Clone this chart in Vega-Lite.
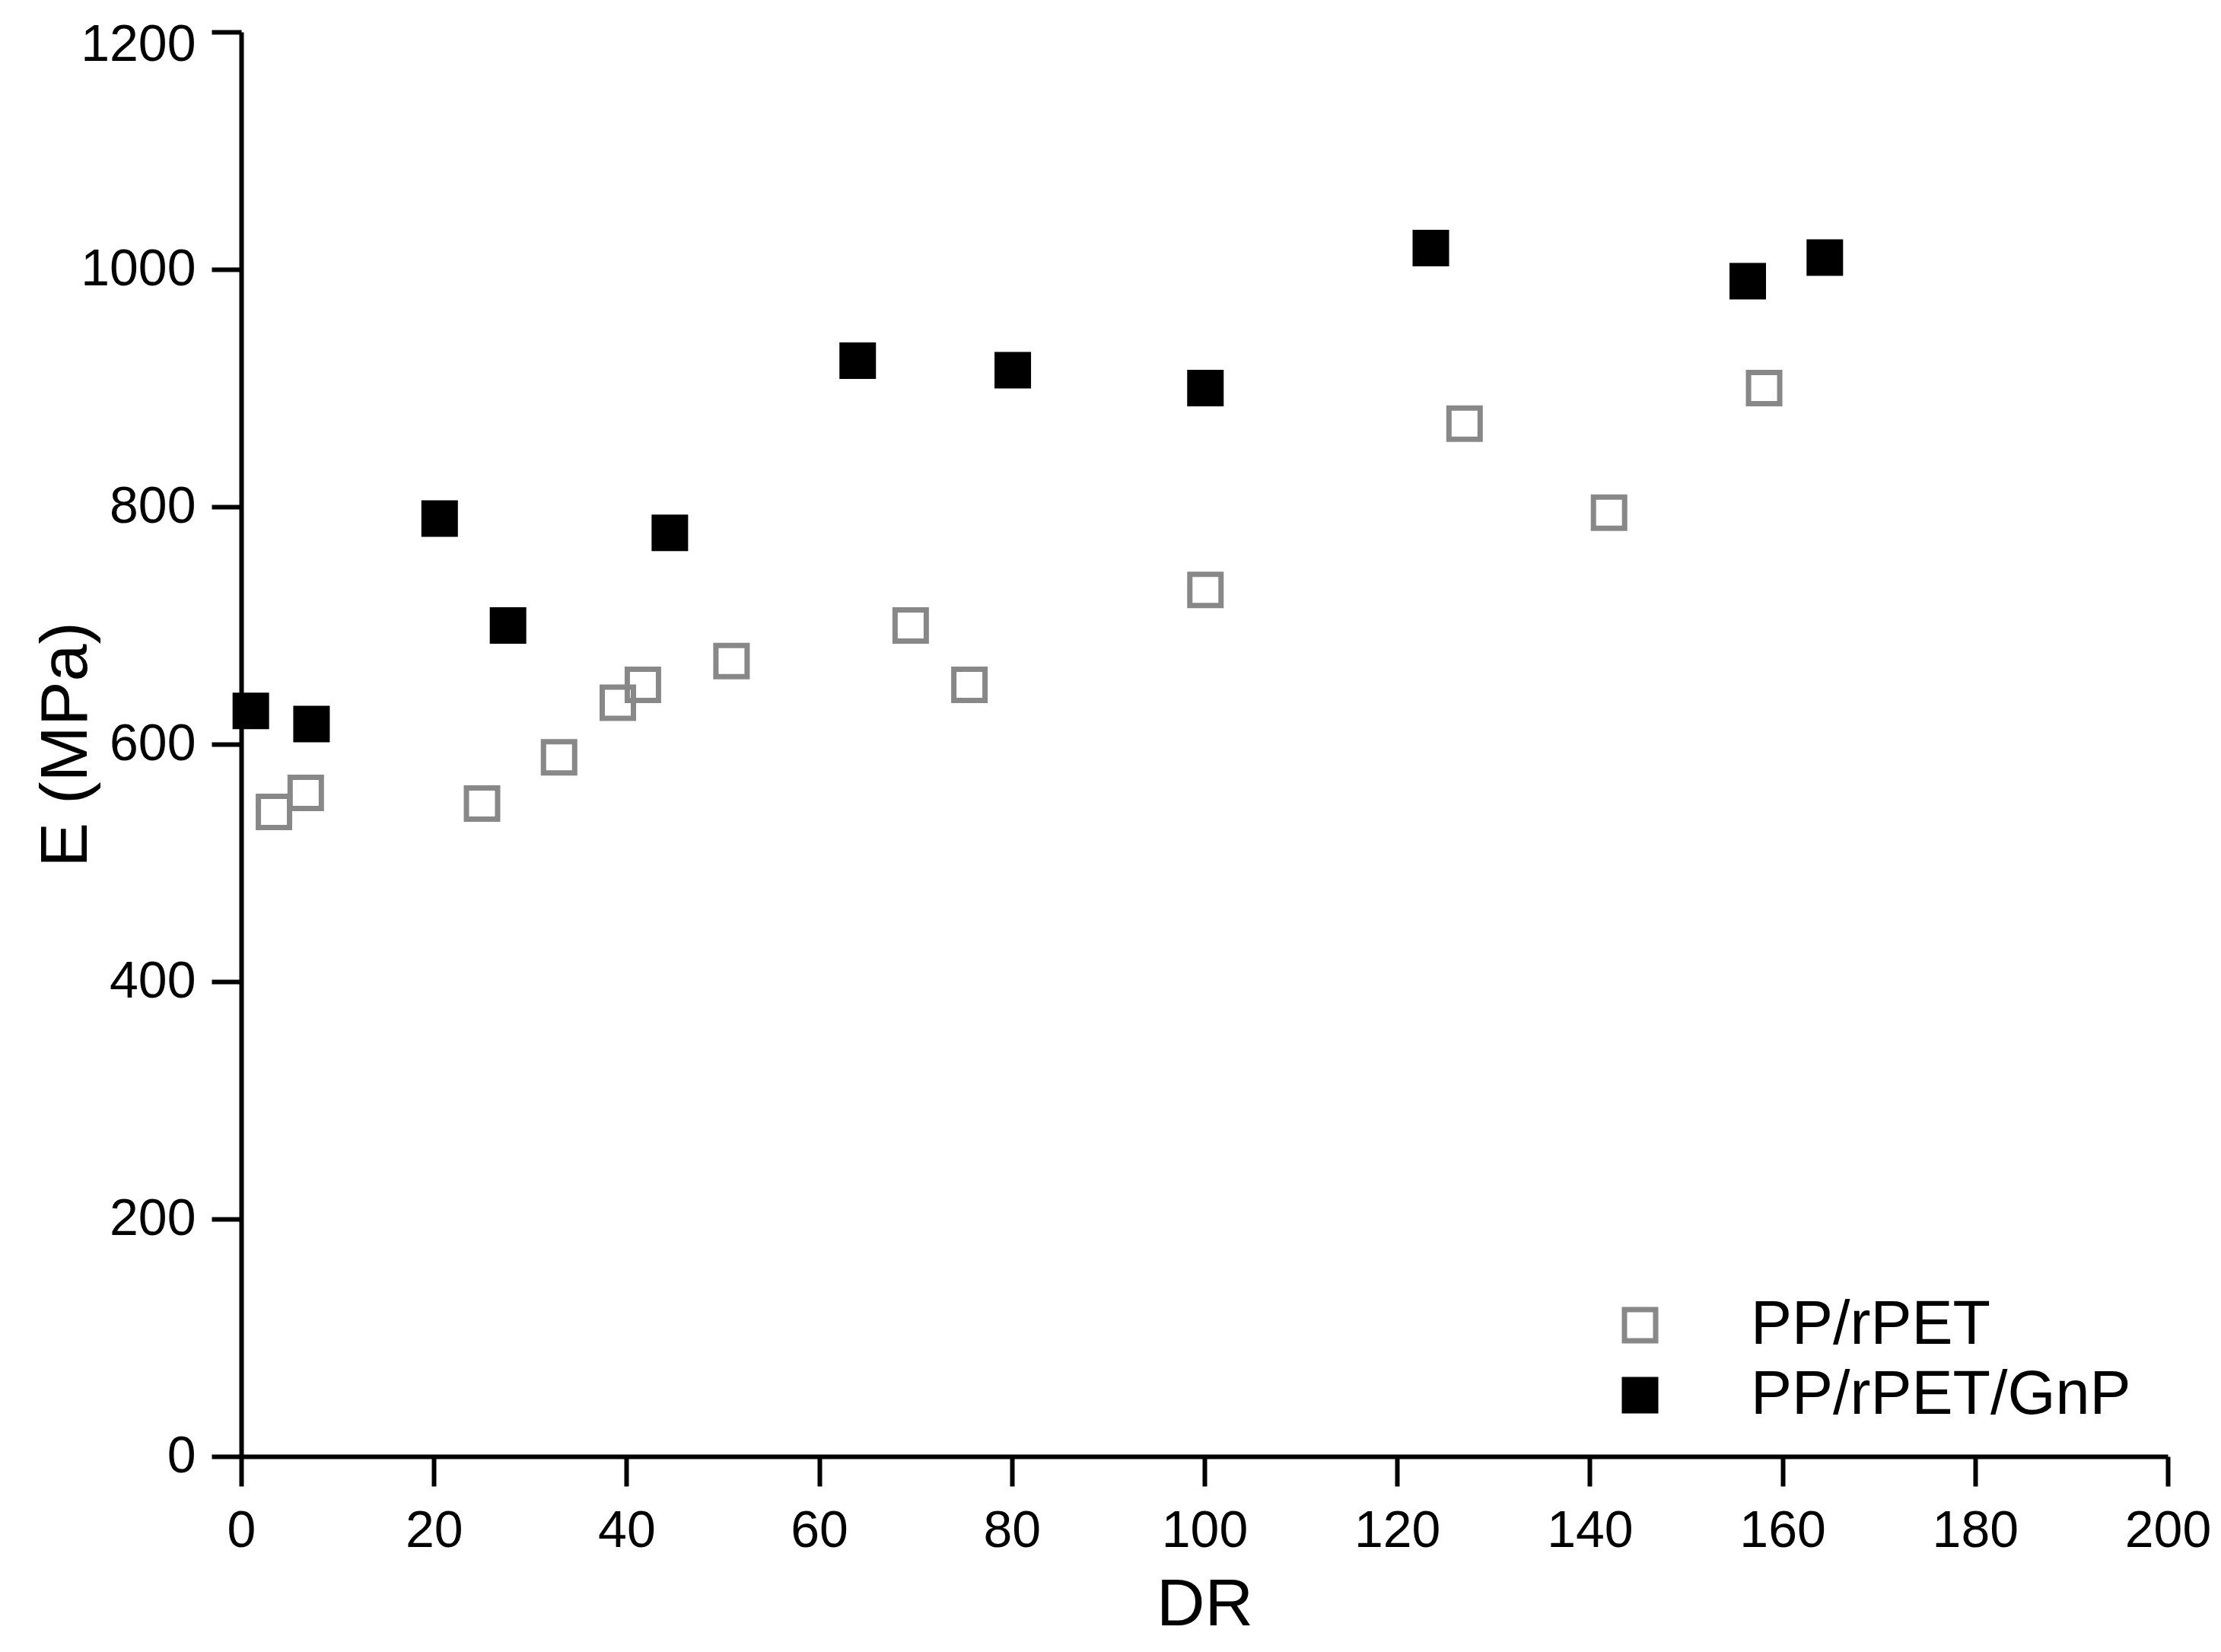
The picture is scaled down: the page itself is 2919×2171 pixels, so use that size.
{
  "$schema": "https://vega.github.io/schema/vega-lite/v6.json",
  "autosize": {"type": "none"},
  "padding": {"left": 317, "top": 42, "right": 70, "bottom": 257},
  "width": 2532,
  "height": 1872,
  "background": "white",
  "config": {
    "view": {"stroke": null},
    "font": "Liberation Sans",
    "axis": {
      "grid": false,
      "labelFlush": false,
      "labelOverlap": false,
      "domainColor": "black",
      "domainWidth": 6,
      "tickColor": "black",
      "tickWidth": 6,
      "tickSize": 39,
      "labelColor": "black",
      "labelFont": "Liberation Sans",
      "labelFontSize": 68,
      "titleFont": "Liberation Sans",
      "titleFontSize": 88,
      "titleFontWeight": "normal",
      "titleColor": "black"
    },
    "legend": {
      "orient": "none",
      "legendX": 1798,
      "legendY": 1659,
      "padding": 0,
      "symbolType": "square",
      "symbolSize": 1681,
      "symbolStrokeWidth": 7,
      "labelFont": "Liberation Sans",
      "labelFontSize": 81,
      "labelColor": "black",
      "labelOffset": 105,
      "rowPadding": 10,
      "labelLimit": 1000
    }
  },
  "data": {
    "values": [
      {"DR": 3.4, "E": 543, "sample": "PP/rPET"},
      {"DR": 6.7, "E": 559, "sample": "PP/rPET"},
      {"DR": 25.0, "E": 550, "sample": "PP/rPET"},
      {"DR": 33.0, "E": 589, "sample": "PP/rPET"},
      {"DR": 39.1, "E": 635, "sample": "PP/rPET"},
      {"DR": 41.7, "E": 650, "sample": "PP/rPET"},
      {"DR": 50.9, "E": 670, "sample": "PP/rPET"},
      {"DR": 69.5, "E": 700, "sample": "PP/rPET"},
      {"DR": 75.6, "E": 650, "sample": "PP/rPET"},
      {"DR": 100.1, "E": 730, "sample": "PP/rPET"},
      {"DR": 127.0, "E": 870, "sample": "PP/rPET"},
      {"DR": 142.0, "E": 795, "sample": "PP/rPET"},
      {"DR": 158.1, "E": 900, "sample": "PP/rPET"},
      {"DR": 1.0, "E": 628, "sample": "PP/rPET/GnP"},
      {"DR": 7.3, "E": 617, "sample": "PP/rPET/GnP"},
      {"DR": 20.6, "E": 790, "sample": "PP/rPET/GnP"},
      {"DR": 27.7, "E": 700, "sample": "PP/rPET/GnP"},
      {"DR": 44.5, "E": 778, "sample": "PP/rPET/GnP"},
      {"DR": 64.0, "E": 923, "sample": "PP/rPET/GnP"},
      {"DR": 80.1, "E": 915, "sample": "PP/rPET/GnP"},
      {"DR": 100.1, "E": 900, "sample": "PP/rPET/GnP"},
      {"DR": 123.5, "E": 1018, "sample": "PP/rPET/GnP"},
      {"DR": 156.4, "E": 990, "sample": "PP/rPET/GnP"},
      {"DR": 164.4, "E": 1010, "sample": "PP/rPET/GnP"}
    ]
  },
  "mark": {"type": "point", "shape": "square", "size": 1681, "strokeWidth": 7, "opacity": 1},
  "encoding": {
    "x": {
      "field": "DR",
      "type": "quantitative",
      "scale": {"domain": [0, 200], "nice": false, "zero": false},
      "axis": {
        "values": [0, 20, 40, 60, 80, 100, 120, 140, 160, 180, 200],
        "format": "d",
        "labelPadding": 25,
        "title": "DR",
        "titleX": 1266,
        "titleY": 221,
        "titleBaseline": "alphabetic",
        "titleAlign": "center"
      }
    },
    "y": {
      "field": "E",
      "type": "quantitative",
      "scale": {"domain": [0, 1200], "nice": false},
      "axis": {
        "values": [0, 200, 400, 600, 800, 1000, 1200],
        "format": "d",
        "labelPadding": 21,
        "labelOffset": {"condition": {"test": "datum.value == 1200", "value": 17}, "value": 0},
        "title": "E (MPa)",
        "titleX": -204,
        "titleY": 936,
        "titleAngle": -90,
        "titleBaseline": "alphabetic",
        "titleAlign": "center"
      }
    },
    "stroke": {
      "field": "sample",
      "type": "nominal",
      "scale": {"domain": ["PP/rPET", "PP/rPET/GnP"], "range": ["#888888", "#000000"]},
      "legend": {"title": null}
    },
    "fill": {
      "field": "sample",
      "type": "nominal",
      "scale": {"domain": ["PP/rPET", "PP/rPET/GnP"], "range": ["transparent", "#000000"]},
      "legend": {"title": null}
    }
  }
}
